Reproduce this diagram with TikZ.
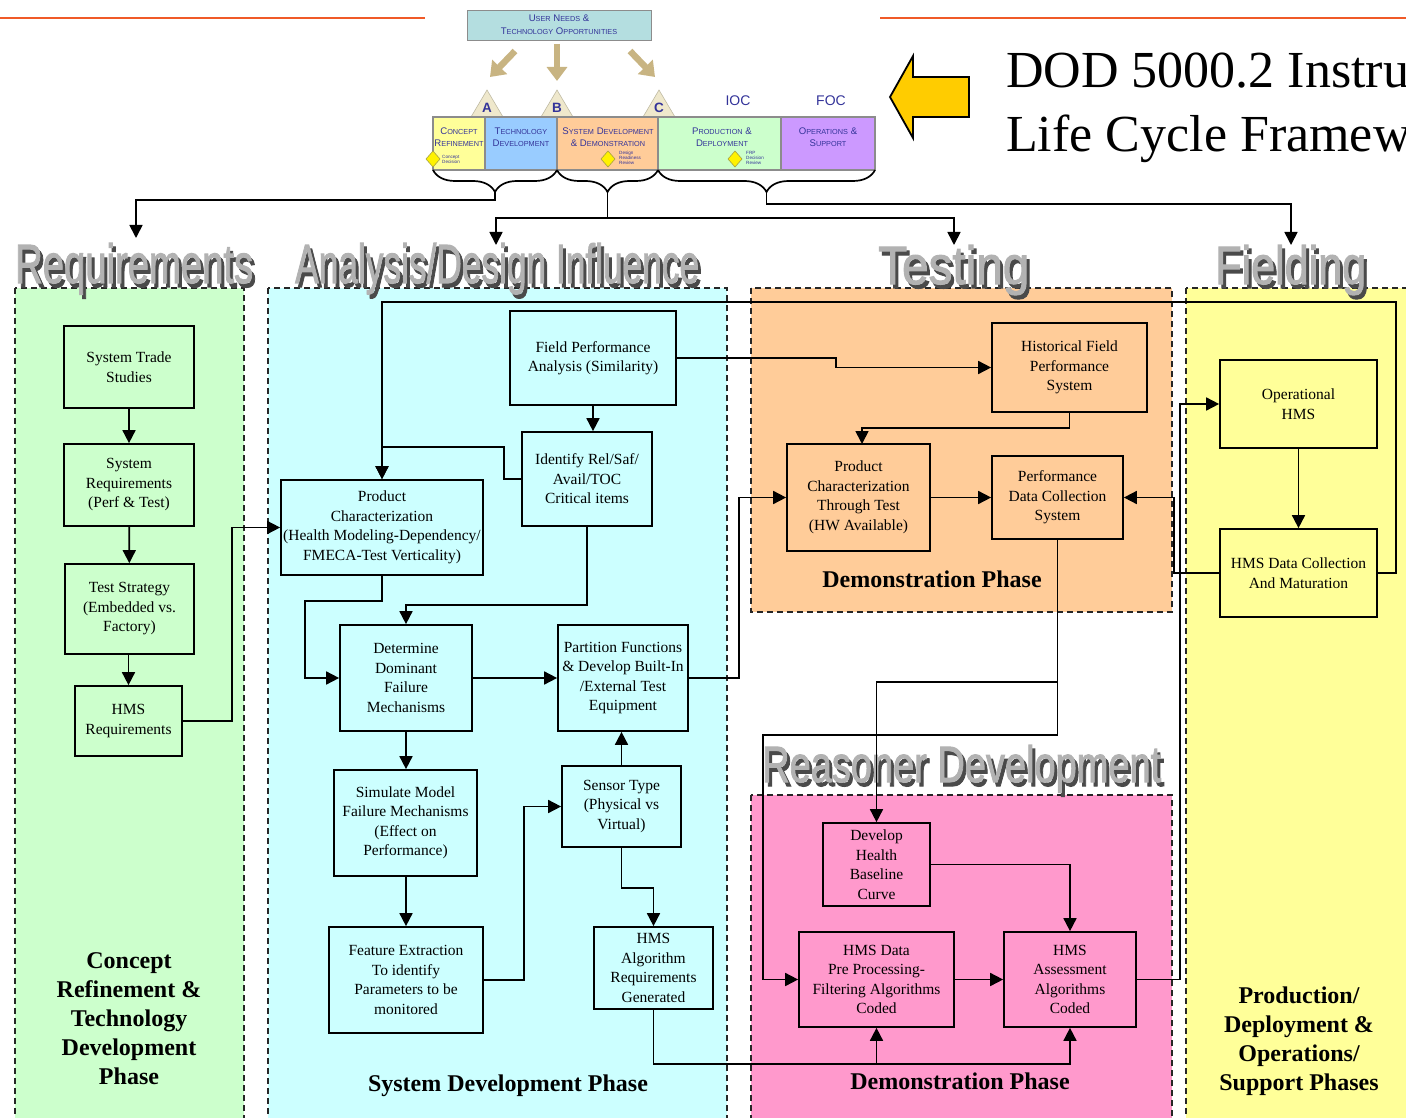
\documentclass[tikz,border=0pt]{standalone}
\usepackage{graphicx}
\usepackage{fontspec}
\setmainfont{Liberation Serif}
\newfontfamily\barfont{Liberation Sans}
\newfontfamily\ttlfnt{Liberation Sans}[FakeBold=2]
\usetikzlibrary{arrows.meta,decorations.pathreplacing}

\definecolor{regG}{HTML}{CCFFCC}
\definecolor{regC}{HTML}{CCFFFF}
\definecolor{regO}{HTML}{FFCC99}
\definecolor{regY}{HTML}{FFFF99}
\definecolor{regP}{HTML}{FF99CC}
\definecolor{rule}{HTML}{F05A28}
\definecolor{bartxt}{HTML}{333399}
\definecolor{needs}{HTML}{B4DEE0}
\definecolor{tanarrow}{HTML}{C8B482}
\definecolor{tri}{HTML}{EFE8CC}
\definecolor{segY}{HTML}{FFFF99}
\definecolor{segB}{HTML}{99CCFF}
\definecolor{segO}{HTML}{FFCC99}
\definecolor{segG}{HTML}{CCFFCC}
\definecolor{segP}{HTML}{CC99FF}
\definecolor{bigarrow}{HTML}{FFCC00}
\definecolor{ttlmain}{HTML}{B2B2B2}
\definecolor{ttlshadow}{HTML}{4A4A4A}

% small caps imitation for the phase bar
\newcommand\SC[2]{{\fontsize{9.6}{14}\selectfont #1}{\fontsize{7.3}{14}\selectfont #2}}

% title with drop shadow: name, x, baseline, width, height, text
\newcommand\gtitle[6]{%
  \node[anchor=base west, inner sep=0pt, text=ttlshadow] at (#2+3,#3+4) {\resizebox{#4pt}{#5pt}{\ttlfnt #6}};
  \node[anchor=base west, inner sep=0pt, text=ttlmain] (#1) at (#2,#3) {\resizebox{#4pt}{#5pt}{\ttlfnt #6}};
}

\tikzset{
  bx/.style={draw, line width=1.7pt, align=center, inner sep=1pt,
    font=\fontsize{15.5}{19.5}\selectfont},
  arr/.style={line width=1.7pt, -{Triangle[length=13pt,width=13pt]}},
  region/.style={dash pattern=on 6pt off 4pt, line width=1.5pt, draw=black!85},
  phasetxt/.style={font=\bfseries\fontsize{24}{29}\selectfont, align=center},
  bartext/.style={font=\barfont, text=bartxt, align=center, inner sep=0pt},
  tinytext/.style={font=\barfont\fontsize{4.6}{5}\selectfont, text=bartxt, align=left, inner sep=0pt, anchor=west},
  tanarr/.style={line width=6.5pt, draw=tanarrow, -{Triangle[length=14pt,width=20pt]}},
  brc/.style={line width=1.7pt, decorate, decoration={brace, mirror, amplitude=22pt}},
}

\begin{document}
\begin{tikzpicture}[x=1pt,y=-1pt]
\useasboundingbox (0,0) rectangle (1406,1118);

% ---------- header ----------
\draw[rule, line width=2.5pt] (0,18) -- (425,18);
\draw[rule, line width=2.5pt] (880,18) -- (1406,18);

\node[draw=black!45, fill=needs, line width=0.8pt, minimum width=184pt, minimum height=30pt,
      bartext, font=\barfont\fontsize{9.6}{13}\selectfont] (needs) at (559,25)
  {\SC{U}{SER} \SC{N}{EEDS} \SC{\&}{}\\\SC{T}{ECHNOLOGY} \SC{O}{PPORTUNITIES}};

\draw[tanarr] (515,51) -- (490,77);
\draw[tanarr] (557,44) -- (557,81);
\draw[tanarr] (630,51) -- (655,77);

\foreach \tx/\tl in {487/A, 557/B, 659/C}{
  \filldraw[fill=tri, draw=tri!80!black, line width=0.6pt] (\tx,90) -- (\tx+16,117) -- (\tx-16,117) -- cycle;
  \node[bartext, font=\barfont\bfseries\fontsize{13.5}{14}\selectfont] at (\tx,108) {\tl};
}
\node[bartext, font=\barfont\fontsize{14}{15}\selectfont] (ioc) at (738,101) {IOC};
\node[bartext, font=\barfont\fontsize{14}{15}\selectfont] (foc) at (831,101) {FOC};

% phase bar
\fill[segY] (433,117) rectangle (485,170);
\fill[segB] (485,117) rectangle (557,170);
\fill[segO] (557,117) rectangle (658,170);
\fill[segG] (658,117) rectangle (781,170);
\fill[segP] (781,117) rectangle (875,170);
\draw[black!45, line width=1.2pt] (433,117) rectangle (875,170);
\foreach \dx in {485,557,658,781} \draw[black!45, line width=1.2pt] (\dx,117) -- (\dx,170);

\node[bartext] (p1) at (459,137) {\SC{C}{ONCEPT}\\\SC{R}{EFINEMENT}};
\node[bartext] (p2) at (521,137) {\SC{T}{ECHNOLOGY}\\\SC{D}{EVELOPMENT}};
\node[bartext] (p3) at (608,137) {\SC{S}{YSTEM} \SC{D}{EVELOPMENT}\\\SC{\&}{} \SC{D}{EMONSTRATION}};
\node[bartext] (p4) at (722,137) {\SC{P}{RODUCTION} \SC{\&}{}\\\SC{D}{EPLOYMENT}};
\node[bartext] (p5) at (828,137) {\SC{O}{PERATIONS} \SC{\&}{}\\\SC{S}{UPPORT}};

\foreach \mx in {433,608,735}
  \filldraw[fill=yellow, draw=yellow!60!black, line width=0.6pt] (\mx,151) -- (\mx+7,159) -- (\mx,167) -- (\mx-7,159) -- cycle;
\node[tinytext] (m1) at (442,159) {Concept\\Decision};
\node[tinytext] (m2) at (619,158) {Design\\Readiness\\Review};
\node[tinytext] (m3) at (746,158) {FRP\\Decision\\Review};

% braces grouping the phases
\draw[brc] (433,170) -- (557,170);
\draw[brc] (557,170) -- (658,170);
\draw[brc] (658,170) -- (875,170);
\coordinate (b1) at (495,192);
\coordinate (b2) at (607.5,192);
\coordinate (b3) at (766.5,192);

% big arrow and heading
\filldraw[fill=bigarrow, draw=black, line width=1.8pt, line join=miter]
  (890,97) -- (913,56) -- (913,77) -- (969,77) -- (969,117) -- (913,117) -- (913,138) -- cycle;
\node[anchor=base west, inner sep=0pt, font=\fontsize{52}{60}\selectfont] (dod1) at (1006,88) {DOD 5000.2 Instru};
\node[anchor=base west, inner sep=0pt, font=\fontsize{52}{60}\selectfont] (dod2) at (1006,152) {Life Cycle Framew};

% ---------- shaded regions ----------
\filldraw[region, fill=regG] (15,288) rectangle (244,1130);
\filldraw[region, fill=regC] (268,288) rectangle (727,1130);
\filldraw[region, fill=regO] (751,288) rectangle (1172,612);
\filldraw[region, fill=regY] (1186,288) rectangle (1420,1130);
\filldraw[region, fill=regP] (751,795) rectangle (1172,1130);

% ---------- titles ----------
\gtitle{tReq}{15}{283}{238}{40}{Requirements}
\gtitle{tAna}{295}{283}{404}{40}{Analysis/Design Influence}
\gtitle{tTst}{878}{284}{151}{39}{Testing}
\gtitle{tFld}{1215}{284}{151}{39}{Fielding}
\gtitle{tRsn}{762}{782}{399}{37}{Reasoner Development}

\coordinate (aReq) at (136,238);
\coordinate (aAna) at (496,245);
\coordinate (aTst) at (954,245);
\coordinate (aFld) at (1291,245);

\draw[arr] (b1) |- (136,200) -- (aReq);
\draw[arr] (b2) |- (496,218) -- (aAna);
\draw[arr] (b2) |- (954,218) -- (aTst);
\draw[arr] (b3) |- (1291,204) -- (aFld);

% ---------- requirements ----------
\node[bx, minimum width=130pt, minimum height=82pt] (R1) at (129,367) {System Trade\\Studies};
\node[bx, minimum width=130pt, minimum height=82pt] (R2) at (129,485) {System\\Requirements\\(Perf \& Test)};
\node[bx, minimum width=129pt, minimum height=90pt] (R3) at (129.5,609) {Test Strategy\\(Embedded vs.\\Factory)};
\node[bx, minimum width=107pt, minimum height=70pt] (R4) at (128.5,721) {HMS\\Requirements};

% ---------- analysis / design ----------
\node[bx, minimum width=166pt, minimum height=94pt] (FPA) at (593,358) {Field Performance\\Analysis (Similarity)};
\node[bx, minimum width=130pt, minimum height=94pt] (IRS) at (587,479) {Identify Rel/Saf/\\Avail/TOC\\Critical items};
\node[bx, minimum width=202pt, minimum height=95pt, inner sep=0pt] (PC) at (382,527.5) {Product\\Characterization\\(Health Modeling-Dependency/\\FMECA-Test Verticality)};
\node[bx, minimum width=132pt, minimum height=106pt] (DDF) at (406,678) {Determine\\Dominant\\Failure\\Mechanisms};
\node[bx, minimum width=130pt, minimum height=106pt] (PF) at (623,678) {Partition Functions\\\& Develop Built-In\\/External Test\\Equipment};
\node[bx, minimum width=143pt, minimum height=106pt] (SM) at (405.5,823) {Simulate Model\\Failure Mechanisms\\(Effect on\\Performance)};
\node[bx, minimum width=119pt, minimum height=81pt] (ST) at (621.5,806.5) {Sensor Type\\(Physical vs\\Virtual)};
\node[bx, minimum width=154pt, minimum height=106pt] (FE) at (406,980) {Feature Extraction\\To identify\\Parameters to be\\monitored};
\node[bx, minimum width=119pt, minimum height=82pt] (HAR) at (653.5,968) {HMS\\Algorithm\\Requirements\\Generated};

% ---------- testing ----------
\node[bx, minimum width=155pt, minimum height=89pt] (HFP) at (1069.5,367.5) {Historical Field\\Performance\\System};
\node[bx, minimum width=143pt, minimum height=107pt] (PCT) at (858.5,497.5) {Product\\Characterization\\Through Test\\(HW Available)};
\node[bx, minimum width=131pt, minimum height=83pt] (PDC) at (1057.5,497.5) {Performance\\Data Collection\\System};

% ---------- fielding ----------
\node[bx, minimum width=157pt, minimum height=88pt] (OPH) at (1298.5,404) {Operational\\HMS};
\node[bx, minimum width=157pt, minimum height=88pt] (HDC) at (1298.5,573) {HMS Data Collection\\And Maturation};

% ---------- reasoner ----------
\node[bx, minimum width=107pt, minimum height=83pt] (DHB) at (876.5,864.5) {Develop\\Health\\Baseline\\Curve};
\node[bx, minimum width=155pt, minimum height=95pt] (HDP) at (876.5,979.5) {HMS Data\\Pre Processing-\\Filtering Algorithms\\Coded};
\node[bx, minimum width=132pt, minimum height=95pt] (HAC) at (1070,979.5) {HMS\\Assessment\\Algorithms\\Coded};

% ---------- phase labels ----------
\node[phasetxt] (lCon) at (129,1019) {Concept\\Refinement \&\\Technology\\Development\\Phase};
\node[phasetxt] (lSys) at (508,1086) {System Development Phase};
\node[phasetxt] (lDem1) at (932,579) {Demonstration Phase};
\node[phasetxt] (lDem2) at (960,1081) {Demonstration Phase};
\node[phasetxt] (lPrd) at (1299,1041) {Production/\\Deployment \&\\Operations/\\Support Phases};

% ---------- connectors ----------
\draw[arr] (R1) -- (R2);
\draw[arr] (R2) -- (R3);
\draw[arr] (R3.south -| R4.north) -- (R4.north);
\draw[arr] (R4.east) -- (232,721) |- (PC.west);

\draw[arr] (HDC.east) -- (1396,573) -- (1396,302) -| (PC.north);
\draw[arr] (IRS.west) -| (504,447) -| (PC.north);
\draw[arr] (FPA.south) -- (FPA.south |- IRS.north);
\draw[arr] (FPA.east) -| (836,367.5) -- (HFP.west);
\draw[arr] (PC.south) |- (305,601) |- (DDF.west);
\draw[arr] (IRS.south) |- (406,605) -- (DDF.north);
\draw[arr] (DDF.east) -- (PF.west);
\draw[arr] (DDF.south) -- (DDF.south |- SM.north);
\draw[arr] (SM.south -| FE.north) -- (FE.north);
\draw[arr] (FE.east) -- (524,980) |- (ST.west);
\draw[arr] (ST.north) -- (ST.north |- PF.south);
\draw[arr] (ST.south) |- (653.5,888) -- (HAR.north);
\coordinate (bus) at (876.5,1064);
\draw[arr] (HAR.south) |- (HAC.south |- bus) -- (HAC.south);
\draw[arr] (bus) -- (HDP.south);
\draw[arr] (PF.east) -- (739,678) |- (PCT.west);

\draw[arr] (HFP.south) |- (862,428) -- (862,444);
\draw[arr] (PCT.east) -- (PDC.west);
\draw[arr] (HDC.west) -- (1174,573) |- (PDC.east);
\draw[arr] (HAC.east) -- (1180,979.5) |- (OPH.west);
\draw[arr] (OPH.south) -- (HDC.north);
\draw[arr] (PDC.south) |- (DHB.north |- 0,682) -- (DHB.north);
\draw[arr] (PDC.south) |- (763,735) |- (HDP.west);
\draw[arr] (DHB.east) -| (HAC.north);
\draw[arr] (HDP.east) -- (HAC.west);

\end{tikzpicture}
\end{document}
